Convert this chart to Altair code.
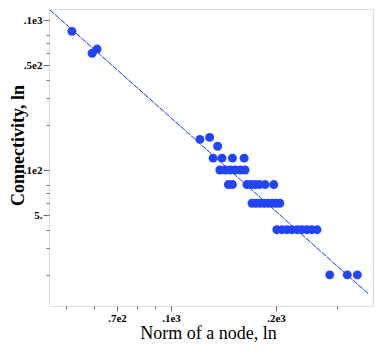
import altair as alt
import pandas as pd

# Scatter data (norm of a node, connectivity)
norm = [52.0, 59.4, 61.4,
        121, 129, 136,
        132, 140, 150, 162,
        138, 143, 148, 152.5, 158, 163,
        146, 150, 165, 169.5, 174, 179, 186, 197,
        170.7, 175, 180, 185, 190, 195, 200, 205,
        201, 208, 215, 222, 230, 237, 245, 253, 262,
        285, 320, 342]
conn = [84, 60, 64,
        16, 16.5, 14.4,
        12, 12, 12, 12,
        10, 10, 10, 10, 10, 10,
        8, 8, 8, 8, 8, 8, 8, 8,
        6, 6, 6, 6, 6, 6, 6, 6,
        4, 4, 4, 4, 4, 4, 4, 4, 4,
        2, 2, 2]

# Fitted line endpoints
fit_norm = [45.0, 369.0]
fit_conn = [116.6, 1.485]

# Axis ticks (Maple style)
x_ticks = [50, 60, 70, 80, 90, 100, 200, 300]
x_major = [70, 100, 200]
x_labels = [".7e2", ".1e3", ".2e3"]
y_ticks = [2, 3, 4, 5, 6, 7, 8, 10, 20, 30, 40, 50, 60, 70, 80, 100]
y_major = [5, 10, 50, 100]
y_labels = ["5.", ".1e2", ".5e2", ".1e3"]

x_domain = [44.70, 379.2]
y_domain = [1.240, 118.4]

pts = pd.DataFrame({"norm": norm, "conn": conn})
fit = pd.DataFrame({"norm": fit_norm, "conn": fit_conn})


def label_expr(vals, labs):
    expr = "''"
    for v, l in zip(reversed(vals), reversed(labs)):
        expr = f"datum.value == {v} ? '{l}' : ({expr})"
    return expr


def major_test(vals):
    return "indexof([" + ",".join(str(v) for v in vals) + "], datum.value) >= 0"


FONT = "Liberation Serif"

x_axis = alt.Axis(
    values=x_ticks,
    labelExpr=label_expr(x_major, x_labels),
    tickSize={"condition": {"test": major_test(x_major), "value": 5}, "value": 3},
    labelPadding=1,
    labelFont=FONT, labelFontSize=11, labelFontWeight="bold", labelColor="black",
    labelOverlap=False, labelFlush=False, labelBound=False,
    tickColor="#707070", domain=False, grid=False,
    title="Norm of a node, ln", titleFont=FONT, titleFontSize=18,
    titleFontWeight="normal", titleColor="black",
    titleX=159, titleY=32, titleBaseline="alphabetic", titleAlign="center",
)
y_axis = alt.Axis(
    values=y_ticks,
    labelExpr=label_expr(y_major, y_labels),
    tickSize={"condition": {"test": major_test(y_major), "value": 6}, "value": 3},
    labelPadding=1,
    labelFont=FONT, labelFontSize=11, labelFontWeight="bold", labelColor="black",
    labelOverlap=False, labelFlush=False, labelBound=False,
    tickColor="#707070", domain=False, grid=False,
    title="Connectivity, ln", titleFont=FONT, titleFontSize=18,
    titleFontWeight="bold", titleColor="black", titleAngle=-90,
    titleX=-26, titleY=136, titleBaseline="alphabetic", titleAlign="center",
)

xs = alt.Scale(type="log", domain=x_domain, nice=False, zero=False)
ys = alt.Scale(type="log", domain=y_domain, nice=False, zero=False)

points = alt.Chart(pts).mark_circle(size=80, opacity=1, color="#2244ff").encode(
    x=alt.X("norm:Q", scale=xs, axis=x_axis),
    y=alt.Y("conn:Q", scale=ys, axis=y_axis),
)
line = alt.Chart(fit).mark_line(color="#1030ff", strokeWidth=1, strokeDash=[6, 1], clip=True).encode(
    x=alt.X("norm:Q", scale=xs),
    y=alt.Y("conn:Q", scale=ys),
)

chart = (line + points).properties(
    width=324, height=297,
    autosize=alt.AutoSizeParams(type="none"),
    padding={"left": 41, "top": 1, "right": 1, "bottom": 36},
).configure_view(stroke="#707070", strokeWidth=1.5).configure(background="white")

chart.save("out.html", embed_options={"renderer": "svg", "actions": False})
